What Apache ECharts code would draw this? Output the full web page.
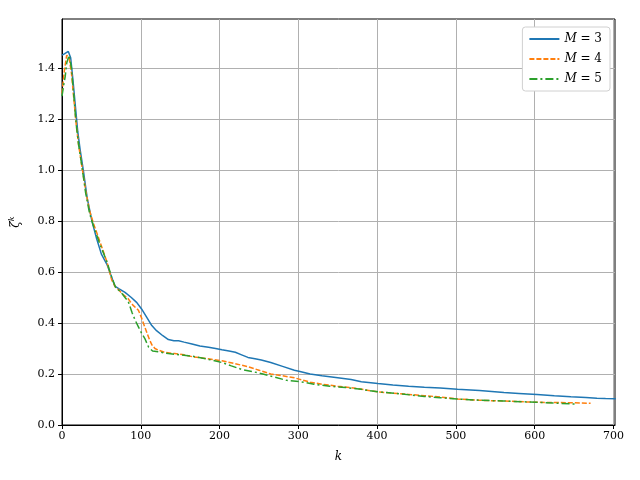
<!DOCTYPE html>
<html style="height: 100%">
<head>
<meta charset="utf-8">
</head>
<body style="height: 100%; margin: 0; background: #fff">
<div id="container" style="width: 640px; height: 480px"></div>
<script type="text/javascript" src="https://cdn.jsdelivr.net/npm/echarts@6/dist/echarts.min.js"></script>
<script type="text/javascript">
var m3K = [0,3,8,11,14,17,20,23,27,32,38,44,50,57,63,67,72,80,88,95,101,108,114,120,128,135,142,148,155,165,175,186,195,203,212,220,228,236,245,253,265,280,295,302,315,330,350,367,380,401,420,440,460,480,502,530,561,580,603,625,646,665,679,690,703];
var m3Val = [1.45,1.455,1.465,1.44,1.35,1.25,1.15,1.08,1.0,0.89,0.80,0.73,0.67,0.63,0.58,0.545,0.535,0.52,0.50,0.48,0.455,0.42,0.39,0.37,0.35,0.335,0.33,0.33,0.325,0.318,0.31,0.305,0.30,0.295,0.29,0.285,0.275,0.265,0.26,0.255,0.245,0.23,0.215,0.21,0.2,0.193,0.185,0.178,0.17,0.163,0.157,0.152,0.148,0.145,0.14,0.135,0.127,0.124,0.12,0.115,0.111,0.108,0.105,0.104,0.103];

var m4K = [0,3,6,9,12,15,18,21,25,30,35,40,48,57,63,68,72,78,84,90,97,101,105,108,111,114,118,122,130,143,155,165,180,203,220,236,250,265,280,295,302,315,330,350,370,401,420,440,460,480,502,530,560,603,630,650,671];
var m4Val = [1.30,1.39,1.45,1.44,1.38,1.28,1.18,1.10,1.02,0.92,0.84,0.79,0.72,0.64,0.57,0.54,0.53,0.51,0.495,0.47,0.45,0.42,0.385,0.36,0.335,0.315,0.30,0.294,0.285,0.28,0.275,0.268,0.262,0.252,0.24,0.229,0.215,0.2,0.193,0.185,0.179,0.168,0.16,0.152,0.145,0.13,0.125,0.12,0.115,0.11,0.102,0.097,0.094,0.089,0.088,0.087,0.085];

var m5K = [0,2,4,6,9,12,15,18,21,25,30,35,40,48,57,63,68,75,80,84,89,93,97,101,105,110,115,122,135,150,165,185,203,215,228,241,255,270,285,302,320,340,360,380,401,430,460,480,502,530,560,603,630,652];
var m5Val = [1.29,1.33,1.365,1.42,1.45,1.40,1.29,1.18,1.10,1.02,0.91,0.83,0.78,0.71,0.64,0.58,0.54,0.52,0.50,0.485,0.44,0.41,0.385,0.36,0.34,0.305,0.29,0.287,0.28,0.275,0.27,0.258,0.245,0.232,0.218,0.21,0.2,0.188,0.175,0.17,0.16,0.152,0.147,0.14,0.13,0.122,0.112,0.107,0.102,0.097,0.094,0.089,0.085,0.082];

var seriesNames = ['M = 3', 'M = 4', 'M = 5'];
var xTicks = [0, 100, 200, 300, 400, 500, 600, 700];
var yTicks = [0, 0.2, 0.4, 0.6, 0.8, 1.0, 1.2, 1.4];

var pairs = function (ks, vs) {
    var res = [];
    for (var i = 0; i < ks.length; i++) {
        res.push([ks[i], vs[i]]);
    }
    return res;
};

var serif = 'DejaVu Serif';
var dom = document.getElementById('container');
var myChart = echarts.init(dom, null, { renderer: 'canvas' });

var option = {
    animation: false,
    backgroundColor: '#fff',
    grid: {
        left: 60, right: 25, top: 19, bottom: 55,
        show: true, borderColor: '#000', borderWidth: 1
    },
    legend: {
        right: 30, top: 27,
        orient: 'vertical',
        data: seriesNames,
        itemWidth: 30, itemHeight: 10, itemGap: 8,
        padding: [6, 8, 6, 6],
        backgroundColor: '#fff',
        borderColor: '#d0d0d0', borderWidth: 1, borderRadius: 3,
        itemStyle: { opacity: 0 },
        formatter: function (name) {
            return '{i|M} = ' + name.split('= ')[1];
        },
        textStyle: {
            fontFamily: serif, fontSize: 12, color: '#000',
            rich: { i: { fontFamily: serif, fontStyle: 'italic', fontSize: 12 } }
        }
    },
    xAxis: {
        type: 'value',
        min: 0, max: 702, interval: 100,
        name: 'k',
        nameLocation: 'middle', nameGap: 26,
        nameTextStyle: { fontFamily: serif, fontStyle: 'italic', fontSize: 12, color: '#000' },
        axisLine: { lineStyle: { color: '#000' } },
        axisTick: { inside: false, length: 4, lineStyle: { color: '#000' }, customValues: xTicks },
        axisLabel: { fontFamily: serif, fontSize: 11, color: '#000', margin: 6, customValues: xTicks },
        splitLine: { show: true, lineStyle: { color: '#b0b0b0', width: 1 } }
    },
    yAxis: {
        type: 'value',
        min: 0, max: 1.592, interval: 0.2,
        name: '{z|ζ}{s|k}',
        nameLocation: 'middle', nameGap: 38, nameRotate: 90,
        nameTextStyle: {
            color: '#000',
            rich: {
                z: { fontFamily: serif, fontStyle: 'italic', fontSize: 12, color: '#000' },
                s: { fontFamily: serif, fontStyle: 'italic', fontSize: 8, color: '#000', padding: [0, 0, 8, 0] }
            }
        },
        axisLine: { show: true, lineStyle: { color: '#000' } },
        axisTick: { show: true, inside: false, length: 4, lineStyle: { color: '#000' }, customValues: yTicks },
        axisLabel: {
            fontFamily: serif, fontSize: 11, color: '#000', margin: 7,
            customValues: yTicks,
            formatter: function (v) { return v.toFixed(1); }
        },
        splitLine: { show: true, lineStyle: { color: '#b0b0b0', width: 1 } }
    },
    series: [
        {
            name: seriesNames[0], type: 'line', symbol: 'none',
            data: pairs(m3K, m3Val),
            color: '#1f77b4',
            lineStyle: { color: '#1f77b4', width: 1.5 }
        },
        {
            name: seriesNames[1], type: 'line', symbol: 'none',
            data: pairs(m4K, m4Val),
            color: '#ff7f0e',
            lineStyle: { color: '#ff7f0e', width: 1.5, type: [5, 2] }
        },
        {
            name: seriesNames[2], type: 'line', symbol: 'none',
            data: pairs(m5K, m5Val),
            color: '#2ca02c',
            lineStyle: { color: '#2ca02c', width: 1.5, type: [8, 3, 2, 3] }
        }
    ]
};

myChart.setOption(option);
</script>
</body>
</html>
